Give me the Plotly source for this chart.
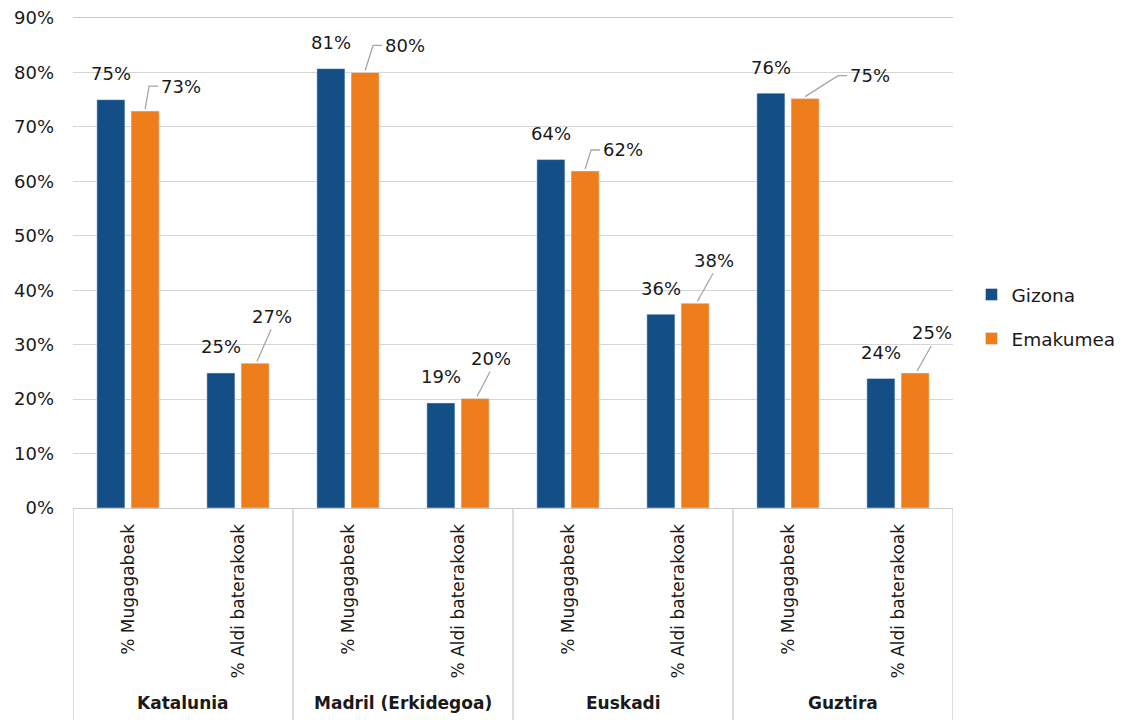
import plotly.graph_objects as go

# data (percent)
regions = ["Katalunia", "Madril (Erkidegoa)", "Euskadi", "Guztira"]
contract_types = ["% Mugagabeak", "% Aldi baterakoak"]
gizona = [75.0, 24.8, 80.7, 19.3, 64.0, 35.6, 76.2, 23.8]
emakumea = [72.9, 26.6, 80.0, 20.1, 61.9, 37.6, 75.2, 24.8]
y_ticks = [0, 10, 20, 30, 40, 50, 60, 70, 80, 90]

# label placement for the orange series (dx, up) in px from bar top, and leader style
orange_label_offsets = [(36, 25), (17, 47), (40, 27), (16, 40), (38, 21), (19, 43), (65, 23), (17, 40)]
orange_leader_kind = ["elbow", "diag", "elbow", "diag", "elbow", "diag", "elbow", "diag"]

BLUE = "#134f86"
ORANGE = "#ee7d1b"
FONT = "DejaVu Sans"
TEXT = "#1a1a1a"
GRID = "#d6d6d6"

n = len(gizona)
xs = list(range(n))
tick_text = [contract_types[i % 2] for i in xs]

bar_w = 0.255
blue_off = -0.283
orange_off = 0.028
blue_c = blue_off + bar_w / 2
orange_c = orange_off + bar_w / 2

fig = go.Figure()
fig.add_trace(go.Bar(x=xs, y=gizona, name="Gizona", marker_color=BLUE,
                     width=bar_w, offset=blue_off, legendgroup="g"))
fig.add_trace(go.Bar(x=xs, y=emakumea, name="Emakumea", marker_color=ORANGE,
                     width=bar_w, offset=orange_off, legendgroup="e"))

annotations = []
shapes = []
for i in xs:
    annotations.append(dict(x=i + blue_c, y=gizona[i], xref="x", yref="y",
                            text=f"{round(gizona[i])}%", showarrow=False, yshift=26,
                            xanchor="center", yanchor="middle",
                            font=dict(size=18, color=TEXT, family=FONT)))
    dx, up = orange_label_offsets[i]
    annotations.append(dict(x=i + orange_c, y=emakumea[i], xref="x", yref="y",
                            text=f"{round(emakumea[i])}%", showarrow=False,
                            xshift=dx, yshift=up, xanchor="center", yanchor="middle",
                            font=dict(size=18, color=TEXT, family=FONT)))
    if orange_leader_kind[i] == "elbow":
        hx = dx - 23
        ex = max(hx - 9, 0)
        path = f"M 0,2 L {ex},{up} L {hx},{up}"
    else:
        path = f"M {dx * 0.12:.1f},2 L {dx - 1},{up - 13}"
    shapes.append(dict(type="path", xref="x", yref="y", xsizemode="pixel", ysizemode="pixel",
                       xanchor=i + orange_c, yanchor=emakumea[i], path=path,
                       line=dict(color="#a6a6a6", width=1.3)))

# group separators and group labels under the axis
for b in [-0.5, 1.5, 3.5, 5.5, 7.5]:
    shapes.append(dict(type="line", xref="x", yref="paper", x0=b, x1=b, y0=0, y1=-0.45,
                       line=dict(color="#c8c8c8", width=1.2)))
for g, name in enumerate(regions):
    annotations.append(dict(x=2 * g + 0.5, y=-0.398, xref="x", yref="paper", text=f"<b>{name}</b>",
                            showarrow=False, xanchor="center", yanchor="middle",
                            font=dict(size=17, color=TEXT, family=FONT)))

fig.update_layout(
    width=1122, height=720,
    margin=dict(l=65, r=175, t=10, b=220),
    paper_bgcolor="white", plot_bgcolor="white",
    font=dict(family=FONT, size=18, color=TEXT),
    barmode="group",
    shapes=shapes,
    annotations=annotations,
    legend=dict(x=1.021, y=0.39, yanchor="middle", xanchor="left",
                font=dict(size=18.5, color=TEXT, family=FONT), tracegroupgap=17),
)
fig.update_xaxes(range=[-0.5, 7.5], tickmode="array", tickvals=xs, ticktext=tick_text,
                 tickangle=-90, showgrid=False, showline=True, linecolor="#c8c8c8", linewidth=1.2,
                 mirror=True, automargin=False,
                 ticks="", ticklabelstandoff=8, tickfont=dict(size=17, color=TEXT))
fig.update_yaxes(range=[0, 90], tickmode="array", tickvals=y_ticks,
                 ticktext=[f"{t}%" for t in y_ticks], showgrid=True, gridcolor=GRID,
                 gridwidth=1.2, zeroline=False, showline=False, ticks="",
                 ticklabeloverflow="allow", automargin=False,
                 ticklabelstandoff=18, tickfont=dict(size=18, color=TEXT))

fig.write_html("out.html")
